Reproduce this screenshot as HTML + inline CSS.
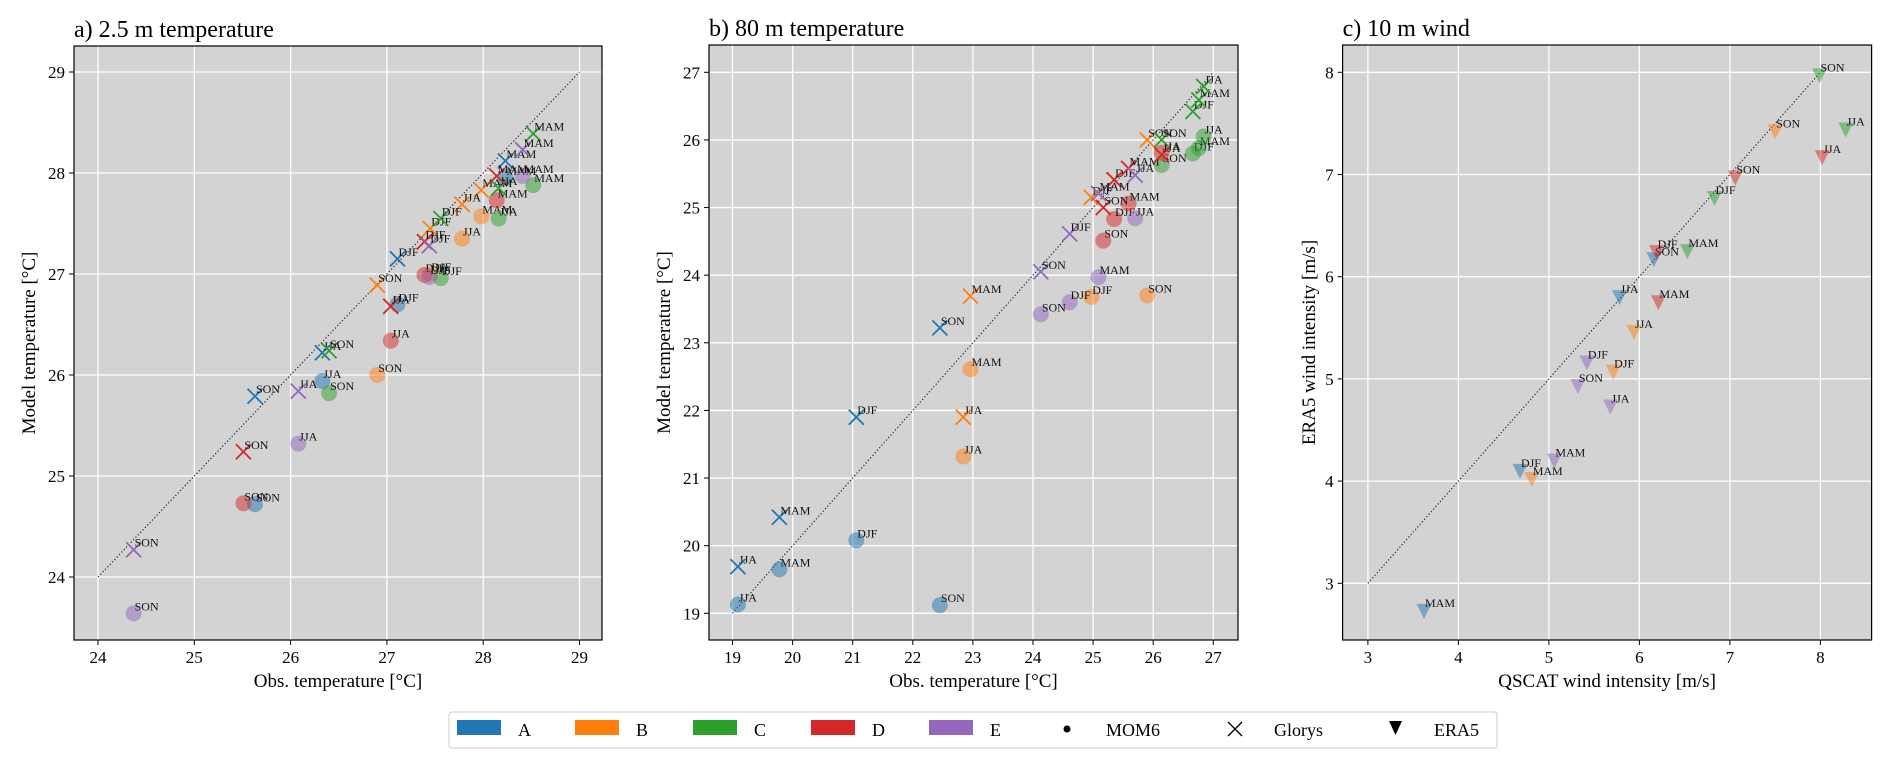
<!DOCTYPE html>
<html><head><meta charset="utf-8">
<style>
html,body{margin:0;padding:0;background:#fff;}
svg{display:block;font-family:"Liberation Serif","DejaVu Serif",serif;}
</style></head>
<body>
<svg id="fig" width="1892" height="769" viewBox="0 0 1892 769" xmlns="http://www.w3.org/2000/svg"></svg>
<script>
// ---- data ----
const regions = ['A','B','C','D','E'];
const colors = ['#1f77b4','#ff7f0e','#2ca02c','#d62728','#9467bd'];
const seasons = ['DJF','MAM','JJA','SON'];
// panel a: 2.5 m temperature (per region, seasons DJF,MAM,JJA,SON)
const aObs = [[27.11,28.23,26.33,25.63],[27.45,27.98,27.78,26.9],[27.56,28.52,28.16,26.4],[27.39,28.14,27.04,25.51],[27.44,28.41,26.08,24.37]];
const aMom = [[26.7,27.95,25.94,24.72],[27.0,27.57,27.35,26.0],[26.96,27.88,27.55,25.82],[26.99,27.73,26.34,24.73],[26.97,27.97,25.32,23.64]];
const aGlo = [[27.15,28.12,26.22,25.79],[27.45,27.83,27.69,26.89],[27.55,28.39,27.85,26.24],[27.32,27.97,26.68,25.24],[27.28,28.23,25.84,24.27]];
const aTicks = [24,25,26,27,28,29];
// panel b: 80 m temperature
const bObs = [[21.06,19.78,19.09,22.45],[24.97,22.96,22.84,25.9],[26.66,26.76,26.84,26.14],[25.35,25.59,26.14,25.17],[24.61,25.09,25.7,24.13]];
const bMom = [[20.08,19.65,19.13,19.12],[23.68,22.61,21.32,23.7],[25.8,25.88,26.05,25.63],[24.83,25.06,25.81,24.51],[23.6,23.97,24.84,23.42]];
const bGlo = [[21.9,20.42,19.69,23.22],[25.15,23.69,21.9,26.0],[26.42,26.59,26.79,26.0],[25.41,25.58,25.78,25.0],[24.61,25.21,25.48,24.05]];
const bTicks = [19,20,21,22,23,24,25,26,27];
// panel c: 10 m wind
const cObs = [[4.68,3.62,5.78,6.16],[5.71,4.81,5.94,7.5],[6.83,6.53,8.28,7.99],[6.19,6.21,8.02,7.06],[5.42,5.06,5.68,5.32]];
const cEra = [[4.11,2.74,5.81,6.18],[5.08,4.03,5.47,7.43],[6.78,6.26,7.45,7.98],[6.25,5.76,7.18,6.98],[5.17,4.21,4.74,4.94]];
const cTicks = [3,4,5,6,7,8];

const NS='http://www.w3.org/2000/svg';
const svg=document.getElementById('fig');
function mk(tag,attrs,parent){const e=document.createElementNS(NS,tag);for(const k in attrs)e.setAttribute(k,attrs[k]);(parent||svg).appendChild(e);return e;}
function lin(d0,d1,r0,r1){return v=>r0+(v-d0)*(r1-r0)/(d1-d0);}

const panels=[
 {key:'a',title:'a) 2.5 m temperature',ylab:'Model temperature [°C]',xlab:'Obs. temperature [°C]',
  box:[74,46,602,640],sx:lin(24,29,98,579.5),sy:lin(29,24,72,577),ticks:aTicks,diag:[24,29],ylx:28},
 {key:'b',title:'b) 80 m temperature',ylab:'Model temperature [°C]',xlab:'Obs. temperature [°C]',
  box:[709,45,1238,640],sx:lin(19,27,732.5,1213.3),sy:lin(27,19,72.3,613.3),ticks:bTicks,diag:[19,27],ylx:663},
 {key:'c',title:'c) 10 m wind',ylab:'ERA5 wind intensity [m/s]',xlab:'QSCAT wind intensity [m/s]',
  box:[1342.6,45,1871.6,640],sx:lin(3,8,1367.9,1820.4),sy:lin(8,3,72.3,583.3),ticks:cTicks,diag:[3,8],ylx:1308}
];

panels.forEach(p=>{
 const g=mk('g',{});
 
 
 const [x0,y0,x1,y1]=p.box;
 const bg=mk('rect',{x:x0,y:y0,width:x1-x0,height:y1-y0,fill:'#d3d3d3'},g);
 
 
 p.ticks.forEach(t=>{
  const X=p.sx(t),Y=p.sy(t);
  mk('line',{x1:X,y1:y0,x2:X,y2:y1,stroke:'#fff','stroke-width':1.3},g);
  mk('line',{x1:x0,y1:Y,x2:x1,y2:Y,stroke:'#fff','stroke-width':1.3},g);
  mk('line',{x1:X,y1:y1,x2:X,y2:y1+5,stroke:'#000','stroke-width':1},g);
  mk('line',{x1:x0-5,y1:Y,x2:x0,y2:Y,stroke:'#000','stroke-width':1},g);
  const tx=mk('text',{x:X,y:y1+23,'text-anchor':'middle','font-size':17,fill:'#000'},g);
  tx.textContent=t;
  
  
  const ty=mk('text',{x:x0-9,y:Y+6,'text-anchor':'end','font-size':17,fill:'#000'},g);
  ty.textContent=t;
  
  
 });
 const dg=mk('line',{x1:p.sx(p.diag[0]),y1:p.sy(p.diag[0]),x2:p.sx(p.diag[1]),y2:p.sy(p.diag[1]),stroke:'#222','stroke-width':1.2,'stroke-dasharray':'1.2,2.2'},g);
 
 
 const fr=mk('rect',{x:x0,y:y0,width:x1-x0,height:y1-y0,fill:'none',stroke:'#000','stroke-width':1.2},g);
 
 
 const tt=mk('text',{x:x0,y:y0-9,'font-size':24,fill:'#000'},g);
 tt.textContent=p.title;
 
 
 const xl=mk('text',{x:(x0+x1)/2,y:687,'text-anchor':'middle','font-size':19,fill:'#000'},g);
 xl.textContent=p.xlab;
 
 
 const yl=mk('text',{x:p.ylx+7,y:(y0+y1)/2,'text-anchor':'middle','font-size':19,fill:'#000',transform:'rotate(-90 '+(p.ylx+7)+' '+((y0+y1)/2)+')'},g);
 yl.textContent=p.ylab;
 
 
 p.g=g;
});

function label(g,cx,cy,s){
 const t=mk('text',{x:cx+1,y:cy-3,'font-size':12,fill:'#111'},g);
 t.textContent=s;
 
 
}
function circles(p,obs,mod){
 obs.forEach((row,r)=>row.forEach((v,s)=>{
  const cx=p.sx(v),cy=p.sy(mod[r][s]);
  const c=mk('circle',{cx:cx,cy:cy,r:8,fill:colors[r],'fill-opacity':0.5},p.g);
  
  
  label(p.g,cx,cy,seasons[s]);
 }));
}
function crosses(p,obs,mod){
 obs.forEach((row,r)=>row.forEach((v,s)=>{
  const cx=p.sx(v),cy=p.sy(mod[r][s]),h=7.5;
  const x=mk('path',{d:`M${cx-h},${cy-h}L${cx+h},${cy+h}M${cx-h},${cy+h}L${cx+h},${cy-h}`,stroke:colors[r],'stroke-width':1.8,fill:'none'},p.g);
  
  
  label(p.g,cx,cy,seasons[s]);
 }));
}
function tris(p,obs,mod){
 obs.forEach((row,r)=>row.forEach((v,s)=>{
  const cx=p.sx(v),cy=p.sy(mod[r][s]);
  const t=mk('path',{d:`M${cx-7.5},${cy-6}L${cx+7.5},${cy-6}L${cx},${cy+9}Z`,fill:colors[r],'fill-opacity':0.5},p.g);
  
  
  label(p.g,cx,cy,seasons[s]);
 }));
}
circles(panels[0],aObs,aMom); crosses(panels[0],aObs,aGlo);
circles(panels[1],bObs,bMom); crosses(panels[1],bObs,bGlo);
tris(panels[2],cObs,cEra);

// legend
const lg=mk('g',{});


mk('rect',{x:449,y:712,width:1048,height:36,rx:3,fill:'#fff',stroke:'#ccc','stroke-width':1},lg);
regions.forEach((r,i)=>{
 const x=457+i*118;
 const e=mk('g',{},lg);
 
 
 mk('rect',{x:x,y:720,width:44,height:15,fill:colors[i]},e);
 const t=mk('text',{x:x+61,y:736,'font-size':18,fill:'#000'},e);
 t.textContent=r;
});
const em=mk('g',{},lg);


mk('circle',{cx:1067,cy:729,r:3.5,fill:'#000'},em);
mk('text',{x:1106,y:736,'font-size':18,fill:'#000'},em).textContent='MOM6';
const eg=mk('g',{},lg);


mk('path',{d:'M1228,722L1242,736M1228,736L1242,722',stroke:'#000','stroke-width':1.3},eg);
mk('text',{x:1274,y:736,'font-size':18,fill:'#000'},eg).textContent='Glorys';
const ee=mk('g',{},lg);


mk('path',{d:'M1389,721L1402,721L1395.5,735Z',fill:'#000'},ee);
mk('text',{x:1434,y:736,'font-size':18,fill:'#000'},ee).textContent='ERA5';
</script>
</body></html>
